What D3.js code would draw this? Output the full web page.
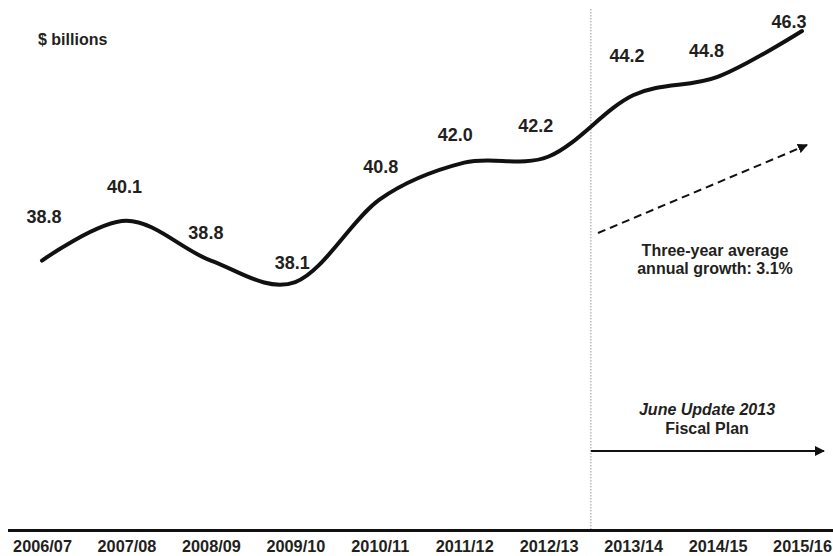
<!DOCTYPE html>
<html>
<head>
<meta charset="utf-8">
<script src="https://cdn.jsdelivr.net/npm/d3@7"></script>
<style>
  html, body { margin: 0; padding: 0; background: #ffffff; }
  svg { display: block; }
  text { font-family: "Liberation Sans", Arial, sans-serif; font-weight: bold; fill: #231f20; }
</style>
</head>
<body>
<svg id="chart" width="833" height="556"></svg>
<script>
// Fiscal years on the horizontal axis
const years = ["2006/07", "2007/08", "2008/09", "2009/10", "2010/11",
               "2011/12", "2012/13", "2013/14", "2014/15", "2015/16"];

// Revenue, $ billions
const revenue = [38.8, 40.1, 38.8, 38.1, 40.8, 42.0, 42.2, 44.2, 44.8, 46.3];

// Value-label nudges (dx, dy) from each point, so labels clear the curve
const labelNudge = [[2, -38], [-2, -28], [-5, -22], [-3, -13], [1, -26],
                    [-9, -22], [-13, -25], [-6, -33], [-11, -20], [-13, -3]];

// Index of the first plan year (right of the divider)
const planStart = 7;

const svg = d3.select("#chart");
const W = 833, H = 556;
const baseY = 530;

const x = d3.scalePoint().domain(years).range([42, 802]);
const y = d3.scaleLinear().domain([30, 46.3]).range([baseY, 31]);

// Divider between actuals and plan years
const divX = (x(years[planStart - 1]) + x(years[planStart])) / 2;
svg.append("line")
  .attr("x1", divX).attr("x2", divX)
  .attr("y1", 9).attr("y2", baseY)
  .attr("stroke", "#9a9a9a").attr("stroke-width", 1)
  .attr("stroke-dasharray", "1.5,1.5");

// Arrowheads
const defs = svg.append("defs");
defs.append("marker")
  .attr("id", "head").attr("viewBox", "0 0 10 10")
  .attr("refX", 9).attr("refY", 5)
  .attr("markerWidth", 5).attr("markerHeight", 5)
  .attr("markerUnits", "strokeWidth")
  .attr("orient", "auto")
  .append("path").attr("d", "M0,0 L10,5 L0,10 z").attr("fill", "#111");

// Horizontal baseline
svg.append("line")
  .attr("x1", 8).attr("x2", W)
  .attr("y1", baseY + 0.5).attr("y2", baseY + 0.5)
  .attr("stroke", "#111").attr("stroke-width", 3);

// Year labels below the baseline
const xAxis = d3.axisBottom(x).tickSize(0).tickPadding(0);
const gx = svg.append("g").attr("transform", `translate(0,${baseY})`).call(xAxis);
gx.select(".domain").remove();
gx.selectAll("text")
  .attr("dy", null)
  .attr("y", 22)
  .style("font-family", "'Liberation Sans', Arial, sans-serif")
  .style("font-weight", "bold")
  .style("font-size", "16.3px")
  .attr("fill", "#231f20");

// Revenue curve
const line = d3.line()
  .x((d, i) => x(years[i]))
  .y(d => y(d))
  .curve(d3.curveCatmullRom.alpha(0));

svg.append("path")
  .datum(revenue)
  .attr("d", line)
  .attr("fill", "none")
  .attr("stroke", "#111")
  .attr("stroke-width", 4)
  .attr("stroke-linecap", "round")
  .attr("stroke-linejoin", "round");

// Value labels
svg.append("g").selectAll("text")
  .data(revenue)
  .join("text")
  .attr("x", (d, i) => x(years[i]) + labelNudge[i][0])
  .attr("y", (d, i) => y(d) + labelNudge[i][1])
  .attr("text-anchor", "middle")
  .style("font-size", "18px")
  .text(d => d.toFixed(1));

// Unit label
svg.append("text")
  .attr("x", 38).attr("y", 45)
  .style("font-size", "16px")
  .text("$ billions");

// Average-growth trend arrow
svg.append("line")
  .attr("x1", 598).attr("y1", 233)
  .attr("x2", 807).attr("y2", 145)
  .attr("stroke", "#111").attr("stroke-width", 2)
  .attr("stroke-dasharray", "8,5")
  .attr("marker-end", "url(#head)");

const growth = svg.append("text")
  .attr("text-anchor", "middle")
  .style("font-size", "16px");
growth.append("tspan").attr("x", 715).attr("y", 256).text("Three-year average");
growth.append("tspan").attr("x", 715).attr("y", 274).text("annual growth: 3.1%");

// Plan-period label and arrow
const plan = svg.append("text")
  .attr("text-anchor", "middle")
  .style("font-size", "16px");
plan.append("tspan").attr("x", 707).attr("y", 415)
  .style("font-style", "italic").text("June Update 2013");
plan.append("tspan").attr("x", 707).attr("y", 434).text("Fiscal Plan");

svg.append("line")
  .attr("x1", divX).attr("y1", 451)
  .attr("x2", 824).attr("y2", 451)
  .attr("stroke", "#111").attr("stroke-width", 2)
  .attr("marker-end", "url(#head)");
</script>
</body>
</html>
